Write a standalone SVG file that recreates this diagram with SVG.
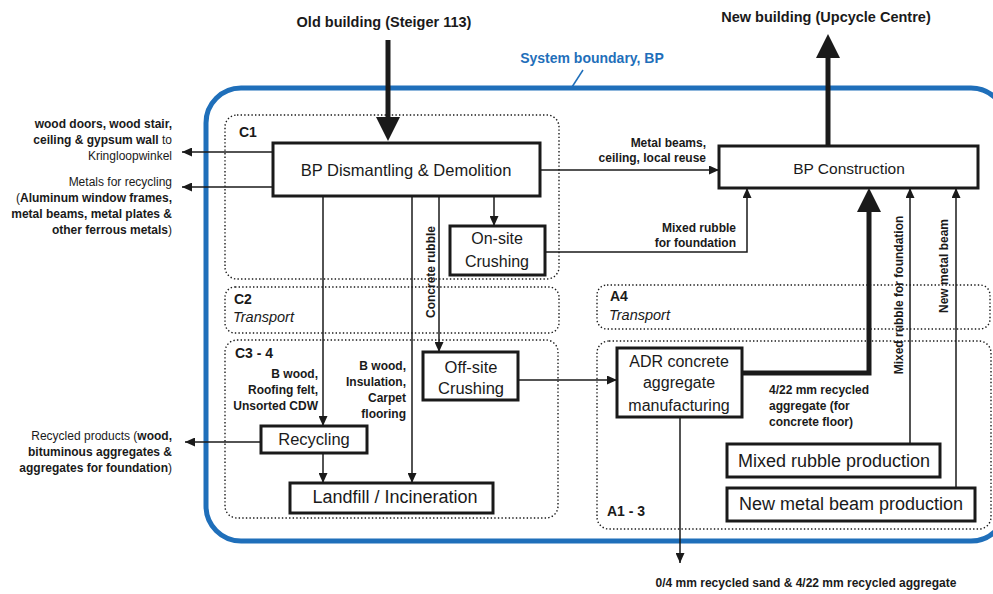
<svg xmlns="http://www.w3.org/2000/svg" width="993" height="594" viewBox="0 0 993 594">
<style>
text{font-family:"Liberation Sans",Arial,sans-serif;fill:#1a1a1a}
.b{font-weight:bold}
.r{font-weight:normal}
.lbl{font-size:12px;font-weight:bold}
.side{font-size:12px;text-anchor:end}
.head{font-size:14.5px;font-weight:bold;text-anchor:middle}
.box{fill:#fff;stroke:#1a1a1a;stroke-width:3}
.bt{text-anchor:middle}
.zone{fill:none;stroke:#1a1a1a;stroke-width:1.4;stroke-dasharray:1.4 2.2}
.zl{font-size:14px;font-weight:bold}
.zi{font-size:14.5px;font-style:italic}
.c{fill:none;stroke:#1a1a1a;stroke-width:1.5}
.thick{fill:none;stroke:#1a1a1a;stroke-width:5}
</style>
<defs>
<marker id="ah" viewBox="0 0 10 9" refX="10" refY="4.5" markerWidth="10" markerHeight="9" markerUnits="userSpaceOnUse" orient="auto"><path d="M0,0 L10,4.5 L0,9 z" fill="#1a1a1a"/></marker>
<marker id="big" viewBox="0 0 24 24" refX="12" refY="12" markerWidth="24" markerHeight="24" markerUnits="userSpaceOnUse" orient="auto"><path d="M0,0 L24,12 L0,24 z" fill="#1a1a1a"/></marker>
</defs>
<rect width="993" height="594" fill="#fff"/>

<g id="zones">
<rect id="zone-c1" class="zone" x="225" y="115" width="334" height="164" rx="12"/>
<rect id="zone-c2" class="zone" x="225" y="287" width="334" height="46" rx="10"/>
<rect id="zone-c34" class="zone" x="225" y="340" width="333" height="178" rx="12"/>
<rect id="zone-a4" class="zone" x="597" y="285" width="393" height="44" rx="10"/>
<rect id="zone-a13" class="zone" x="597" y="341" width="394" height="188" rx="12"/>
<text class="zl" x="239" y="137">C1</text>
<text class="zl" x="234" y="304">C2</text>
<text class="zi" x="233" y="322">Transport</text>
<text class="zl" x="235" y="358">C3 - 4</text>
<text class="zl" x="610" y="301">A4</text>
<text class="zi" x="609" y="320">Transport</text>
<text class="zl" x="607" y="516">A1 - 3</text>
</g>

<g id="system-boundary">
<rect x="206" y="88" width="800" height="453" rx="35" fill="none" stroke="#1f6fba" stroke-width="5"/>
<line x1="583" y1="70" x2="572" y2="87" stroke="#1f6fba" stroke-width="1.5"/>
<text x="592" y="63" class="b" font-size="14" text-anchor="middle" style="fill:#1f6fba">System boundary, BP</text>
</g>

<g id="connectors">
<path class="thick" d="M388,40 V129" marker-end="url(#big)"/>
<path class="thick" d="M828,146 V46" marker-end="url(#big)"/>
<path class="thick" d="M742,373 H869 V200" marker-end="url(#big)"/>
<path class="c" d="M273,152 H182" marker-end="url(#ah)"/>
<path class="c" d="M273,187 H182" marker-end="url(#ah)"/>
<path class="c" d="M540,170 H719" marker-end="url(#ah)"/>
<path class="c" d="M494,196 V226" marker-end="url(#ah)"/>
<path class="c" d="M545,252 H747 V188" marker-end="url(#ah)"/>
<path class="c" d="M323,196 V426" marker-end="url(#ah)"/>
<path class="c" d="M412,196 V483" marker-end="url(#ah)"/>
<path class="c" d="M439,196 V352" marker-end="url(#ah)"/>
<path class="c" d="M261,442 H185" marker-end="url(#ah)"/>
<path class="c" d="M323,453 V483" marker-end="url(#ah)"/>
<path class="c" d="M518,380 H617" marker-end="url(#ah)"/>
<path class="c" d="M680,417 V563" marker-end="url(#ah)"/>
<path class="c" d="M910,444 V188" marker-end="url(#ah)"/>
<path class="c" d="M956,488 V188" marker-end="url(#ah)"/>
</g>

<g id="labels">
<text class="head" x="384" y="27">Old building (Steiger 113)</text>
<text class="head" x="826" y="22">New building (Upcycle Centre)</text>
<text class="side" x="172" y="128"><tspan class="b">wood doors, wood stair,</tspan></text>
<text class="side" x="172" y="144"><tspan class="b">ceiling &amp; gypsum wall</tspan> to</text>
<text class="side" x="172" y="160">Kringloopwinkel</text>
<text class="side" x="172" y="186">Metals for recycling</text>
<text class="side" x="172" y="202">(<tspan class="b">Aluminum window frames,</tspan></text>
<text class="side" x="172" y="218"><tspan class="b">metal beams, metal plates &amp;</tspan></text>
<text class="side" x="172" y="234"><tspan class="b">other ferrous metals</tspan>)</text>
<text class="side" x="172" y="440">Recycled products (<tspan class="b">wood,</tspan></text>
<text class="side" x="172" y="456"><tspan class="b">bituminous aggregates &amp;</tspan></text>
<text class="side" x="172" y="472"><tspan class="b">aggregates for foundation</tspan>)</text>
<text class="lbl" x="706" y="147" text-anchor="end">Metal beams,</text>
<text class="lbl" x="706" y="162" text-anchor="end">ceiling, local reuse</text>
<text class="lbl" x="736" y="232" text-anchor="end">Mixed rubble</text>
<text class="lbl" x="736" y="247" text-anchor="end">for foundation</text>
<text class="lbl" x="318" y="378" text-anchor="end">B wood,</text>
<text class="lbl" x="318" y="394" text-anchor="end">Roofing felt,</text>
<text class="lbl" x="318" y="410" text-anchor="end">Unsorted CDW</text>
<text class="lbl" x="406" y="370" text-anchor="end">B wood,</text>
<text class="lbl" x="406" y="386" text-anchor="end">Insulation,</text>
<text class="lbl" x="406" y="402" text-anchor="end">Carpet</text>
<text class="lbl" x="406" y="418" text-anchor="end">flooring</text>
<text class="lbl" x="769" y="394">4/22 mm recycled</text>
<text class="lbl" x="769" y="410">aggregate (for</text>
<text class="lbl" x="769" y="426">concrete floor)</text>
<text class="lbl" x="806" y="587" text-anchor="middle">0/4 mm recycled sand &amp; 4/22 mm recycled aggregate</text>
<text class="lbl" transform="translate(435,272) rotate(-90)" text-anchor="middle">Concrete rubble</text>
<text class="lbl" transform="translate(903,295) rotate(-90)" text-anchor="middle">Mixed rubble for foundation</text>
<text class="lbl" transform="translate(948,266) rotate(-90)" text-anchor="middle">New metal beam</text>
</g>

<g id="node-dismantling">
<rect class="box" x="273" y="143" width="267" height="53"/>
<text class="bt" x="406" y="176" font-size="16.5">BP Dismantling &amp; Demolition</text>
</g>
<g id="node-onsite">
<rect class="box" x="450" y="226" width="95" height="49"/>
<text class="bt" x="497" y="244" font-size="16">On-site</text>
<text class="bt" x="497" y="267" font-size="16">Crushing</text>
</g>
<g id="node-construction">
<rect class="box" x="719" y="146" width="259" height="42"/>
<text class="bt" x="849" y="174" font-size="15.5">BP Construction</text>
</g>
<g id="node-offsite">
<rect class="box" x="423" y="352" width="95" height="48"/>
<text class="bt" x="471" y="373" font-size="16.5">Off-site</text>
<text class="bt" x="471" y="394" font-size="16.5">Crushing</text>
</g>
<g id="node-recycling">
<rect class="box" x="261" y="426" width="106" height="27"/>
<text class="bt" x="314" y="445" font-size="16.5">Recycling</text>
</g>
<g id="node-landfill">
<rect class="box" x="290" y="483" width="203" height="30"/>
<text class="bt" x="395" y="503" font-size="18">Landfill / Incineration</text>
</g>
<g id="node-adr">
<rect class="box" x="617" y="348" width="125" height="69"/>
<text class="bt" x="679" y="367" font-size="16">ADR concrete</text>
<text class="bt" x="679" y="388" font-size="16">aggregate</text>
<text class="bt" x="679" y="411" font-size="16">manufacturing</text>
</g>
<g id="node-mixed-rubble">
<rect class="box" x="727" y="444" width="213" height="33"/>
<text class="bt" x="834" y="467" font-size="18">Mixed rubble production</text>
</g>
<g id="node-metal-beam">
<rect class="box" x="727" y="488" width="248" height="33"/>
<text class="bt" x="851" y="510" font-size="18">New metal beam production</text>
</g>
</svg>
